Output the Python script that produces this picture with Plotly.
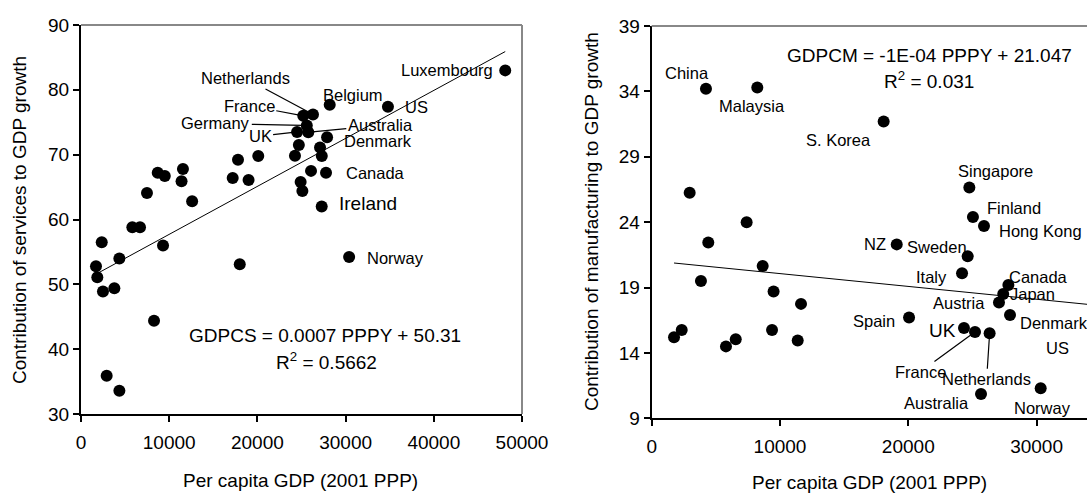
import plotly.graph_objects as go

W, H = 1087, 493
FONT = "Liberation Sans, Arial, sans-serif"

# ---------------- Data: left panel (services) ----------------
svc_country = ["", "", "", "", "", "", "", "", "", "", "", "", "", "", "", "", "", "", "", "", "", "", "",
               "Norway", "Luxembourg", "US", "Belgium", "Netherlands", "France", "Germany", "UK",
               "Australia", "Denmark", "", "", "", "", "", "Canada", "", "", "Ireland"]
svc_gdp = [2350, 5820, 6690, 9300, 7480, 8700, 9500, 11400, 11560, 12600,
           17200, 17800, 19000, 20100, 1700, 4350, 1850, 2490, 3780, 8280,
           18000, 2910, 4350, 30400, 48100, 34800, 28200, 26300, 25200, 25600,
           24500, 25770, 27900, 24700, 27100, 24260, 27300, 26080, 27780, 24900,
           25100, 27290]
svc_contrib = [56.5, 58.8, 58.8, 56.0, 64.1, 67.2, 66.7, 65.9, 67.8, 62.8,
               66.4, 69.2, 66.1, 69.8, 52.8, 54.0, 51.1, 48.9, 49.4, 44.4,
               53.1, 35.9, 33.6, 54.2, 83.0, 77.4, 77.7, 76.2, 76.0, 74.5,
               73.5, 73.45, 72.7, 71.5, 71.1, 69.85, 69.8, 67.5, 67.2, 65.8,
               64.4, 62.0]
svc_trend_slope = 0.00074
svc_trend_intercept = 50.31
svc_eq_text = "GDPCS = 0.0007 PPPY + 50.31"
svc_r2_text = "R<sup>2</sup> = 0.5662"

# ---------------- Data: right panel (manufacturing) ----------------
mfg_country = ["China", "Malaysia", "", "", "", "S. Korea", "Singapore", "Finland", "Hong Kong", "NZ",
               "", "", "", "", "", "", "", "", "", "",
               "Sweden", "Italy", "Canada", "Japan", "Austria", "Denmark", "Spain", "UK", "France",
               "Netherlands", "Australia", "Norway", "US"]
mfg_gdp = [4230, 8230, 2960, 7400, 4410, 18080, 24760, 25040, 25900, 19100,
           8650, 3840, 9500, 11640, 1740, 2340, 5790, 6550, 9380, 11380,
           24630, 24190, 27800, 27400, 27070, 27930, 20060, 24340, 25200, 26340,
           25670, 30320, 34800]
mfg_contrib = [34.2, 34.3, 26.25, 24.0, 22.45, 31.7, 26.65, 24.4, 23.7, 22.3,
               20.65, 19.5, 18.7, 17.75, 15.2, 15.75, 14.5, 15.05, 15.75, 14.95,
               21.4, 20.1, 19.2, 18.5, 17.85, 16.9, 16.7, 15.9, 15.6, 15.5,
               10.85, 11.3, 14.4]
mfg_trend_slope = -0.0000981
mfg_trend_intercept = 21.047
mfg_eq_text = "GDPCM = -1E-04 PPPY + 21.047"
mfg_r2_text = "R<sup>2</sup> = 0.031"

x_title = "Per capita GDP (2001 PPP)"
svc_y_title = "Contribution of services to GDP growth"
mfg_y_title = "Contribution of manufacturing to GDP growth"

# label placement (style only): kind, dx, dy (px)
svc_label_style = {
    "Luxembourg": ("shift", -58, 0), "Belgium": ("shift", 23, 10), "US": ("shift", 29, 0),
    "Netherlands": ("leader", -67, -36), "France": ("leader", -54, -10),
    "Germany": ("leader", -91, -2), "UK": ("leader", -37, 4), "Australia": ("leader", 72, -7),
    "Denmark": ("shift", 51, -4), "Canada": ("shift", 49, 0), "Ireland": ("shift", 46, 3),
    "Norway": ("shift", 46, -1),
}
mfg_label_style = {
    "China": ("shift", -19, 16), "Malaysia": ("shift", -5, -19), "S. Korea": ("shift", -45, -19),
    "Singapore": ("shift", 26, 17), "Finland": ("shift", 41, 9), "Hong Kong": ("shift", 57, -5),
    "NZ": ("shift", -22, 0), "Sweden": ("shift", -31, 9), "Italy": ("shift", -31, -4),
    "Canada": ("shift", 30, 8), "Japan": ("shift", 29, 0), "Austria": ("shift", -40, 0),
    "Denmark": ("shift", 44, -8), "Spain": ("shift", -35, -3), "UK": ("shift", -21, -2),
    "France": ("leader", -55, 40), "Netherlands": ("leader", -3, 46),
    "Australia": ("shift", -45, -9), "Norway": ("shift", 2, -20),
    "US": ("paper", 1057.7, 348.3),
}
big_labels = {("x", "Ireland"), ("x2", "UK")}

# ---------------- Layout geometry (px) ----------------
L_x0, L_x1, L_y0, L_y1 = 81, 522, 25, 414
R_x0, R_x1, R_y0, R_y1 = 651.7, 1087, 26, 418.3

fig = go.Figure()

for xs, ys, xa, ya in [(svc_gdp, svc_contrib, "x", "y"), (mfg_gdp, mfg_contrib, "x2", "y2")]:
    fig.add_trace(go.Scatter(x=xs, y=ys, mode="markers", xaxis=xa, yaxis=ya,
                             marker=dict(color="black", size=12), showlegend=False,
                             hoverinfo="x+y"))

# trend lines
for xs, s, b, xa, ya, xend in [(svc_gdp, svc_trend_slope, svc_trend_intercept, "x", "y", max(svc_gdp)),
                               (mfg_gdp, mfg_trend_slope, mfg_trend_intercept, "x2", "y2", 48000)]:
    x0 = min(xs)
    fig.add_trace(go.Scatter(x=[x0, xend], y=[s * x0 + b, s * xend + b], mode="lines",
                             xaxis=xa, yaxis=ya, line=dict(color="black", width=1),
                             showlegend=False, hoverinfo="skip"))

annotations = []
for names, xs, ys, style, xa, ya in [(svc_country, svc_gdp, svc_contrib, svc_label_style, "x", "y"),
                                     (mfg_country, mfg_gdp, mfg_contrib, mfg_label_style, "x2", "y2")]:
    for n, xv, yv in zip(names, xs, ys):
        if not n:
            continue
        kind, dx, dy = style[n]
        size = 19 if (xa, n) in big_labels else 16.5
        f = dict(family=FONT, size=size, color="black")
        if kind == "shift":
            annotations.append(dict(x=xv, y=yv, xref=xa, yref=ya, text=n, showarrow=False,
                                    xshift=dx, yshift=dy, xanchor="center", yanchor="middle", font=f))
        elif kind == "leader":
            annotations.append(dict(x=xv, y=yv, xref=xa, yref=ya, text=n, showarrow=True,
                                    ax=dx, ay=dy, arrowhead=0, arrowwidth=1.2, arrowcolor="black",
                                    standoff=4, font=f))
        else:
            annotations.append(dict(x=dx / W, y=1 - dy / H, xref="paper", yref="paper", text=n,
                                    showarrow=False, xanchor="center", yanchor="middle", font=f))

big = dict(family=FONT, size=19, color="black")
def paper_text(text, px, py, angle=0):
    return dict(x=px / W, y=1 - py / H, xref="paper", yref="paper", text=text, showarrow=False,
                xanchor="center", yanchor="middle", textangle=angle, font=big)

annotations += [
    paper_text(svc_eq_text, 325, 335), paper_text(svc_r2_text, 326.5, 361),
    paper_text(mfg_eq_text, 929, 55), paper_text(mfg_r2_text, 929, 80),
    paper_text(x_title, 300, 480), paper_text(x_title, 869, 482),
    paper_text(svc_y_title, 20, 220, -90), paper_text(mfg_y_title, 591, 222, -90),
]

axis_common = dict(showgrid=False, zeroline=False, showline=True, linecolor="black", linewidth=2,
                   ticks="outside", ticklen=6, tickwidth=1.5, tickcolor="black", automargin=False,
                   tickformat="d",
                   tickfont=dict(family=FONT, size=19, color="black"))
xtick_extra = dict(ticklabelstandoff=4)

fig.update_layout(
    template="none",
    width=W, height=H, margin=dict(l=0, r=0, t=0, b=0, pad=0),
    paper_bgcolor="white", plot_bgcolor="white", showlegend=False,
    xaxis=dict(domain=[L_x0 / W, L_x1 / W], range=[0, 50000], dtick=10000, anchor="y",
               **axis_common, **xtick_extra),
    yaxis=dict(domain=[1 - L_y1 / H, 1 - L_y0 / H], range=[30, 90], dtick=10, anchor="x", **axis_common),
    xaxis2=dict(domain=[R_x0 / W, R_x1 / W], range=[0, 33930], dtick=10000, anchor="y2",
                **axis_common, **xtick_extra),
    yaxis2=dict(domain=[1 - R_y1 / H, 1 - R_y0 / H], range=[9, 39], tick0=9, dtick=5, anchor="x2", **axis_common),
    annotations=annotations,
    shapes=[
        dict(type="line", xref="x domain", yref="y domain", x0=0, x1=1, y0=1, y1=1,
             line=dict(color="#888888", width=2)),
        dict(type="line", xref="x domain", yref="y domain", x0=1, x1=1, y0=0, y1=1,
             line=dict(color="#888888", width=2)),
        dict(type="line", xref="x2 domain", yref="y2 domain", x0=0, x1=1, y0=1, y1=1,
             line=dict(color="#888888", width=2)),
    ],
)

fig.write_html("out.html")
